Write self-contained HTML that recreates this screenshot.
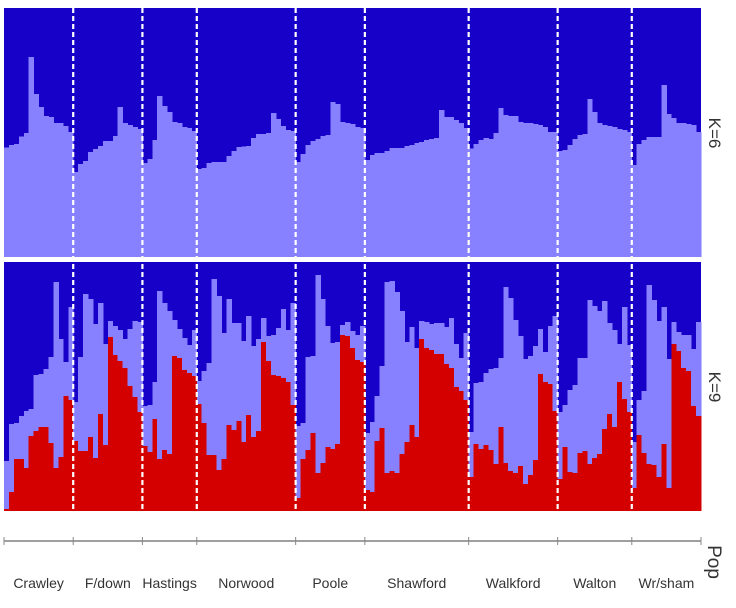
<!DOCTYPE html>
<html><head><meta charset="utf-8"><style>
html,body{margin:0;padding:0;background:#fff;}
svg{display:block;font-family:"Liberation Sans",sans-serif;}
</style></head><body>
<svg id="chart" width="736" height="608" viewBox="0 0 736 608" xmlns="http://www.w3.org/2000/svg">
<g id="k6"></g>
<g id="k9"></g>
<g id="divs"></g>
<g id="axis"></g>
<text transform="translate(709,133) rotate(90)" text-anchor="middle" font-size="17" fill="#333">K=6</text>
<text transform="translate(709,387) rotate(90)" text-anchor="middle" font-size="17" fill="#333">K=9</text>
<text transform="translate(708,562) rotate(90)" text-anchor="middle" font-size="19" fill="#333">Pop</text>
</svg>
<script>
const populations = ["Crawley","F/down","Hastings","Norwood","Poole","Shawford","Walkford","Walton","Wr/sham"];
const popSizes = [14,14,11,20,14,21,18,15,14];
// K=6: light cluster proportion (%) per individual
const k6Light = [
43.9,45.0,45.4,48.3,49.8,80.3,65.5,60.2,56.6,56.2,53.8,53.8,52.6,50.2,
34.1,37.3,38.6,42.2,43.4,44.6,46.6,46.6,48.6,60.2,53.8,53.0,52.2,51.4,
37.8,39.4,47.0,64.7,60.6,58.2,54.2,53.8,52.2,51.8,50.6,
35.3,35.7,37.8,38.2,38.2,38.2,40.6,42.6,44.2,44.3,44.6,47.8,49.4,49.4,49.8,57.8,55.4,52.6,51.0,50.6,
38.2,41.4,45.0,46.6,47.4,48.6,49.0,62.2,61.4,54.2,53.8,53.4,52.2,51.8,
39.0,41.0,41.8,41.8,42.6,43.8,43.8,43.8,44.6,45.0,45.8,46.2,47.0,47.4,47.8,59.0,56.2,56.2,55.0,53.8,51.8,
43.5,45.4,47.0,47.8,47.4,49.8,59.8,57.0,56.6,56.6,54.2,53.8,53.8,53.4,53.0,52.2,50.2,50.2,
42.6,43.0,45.0,47.4,49.0,49.4,63.5,58.2,53.8,53.0,52.6,52.2,51.4,51.0,50.2,
36.9,45.4,47.0,48.2,48.2,48.2,69.1,57.4,55.8,53.8,53.8,53.4,53.0,50.2];
// K=9: red cluster proportion (%)
const k9Red = [
0.8,7.6,20.9,20.9,17.3,30.1,32.1,33.7,33.7,27.3,17.3,21.7,46.2,44.6,
28.1,24.1,24.1,29.7,21.3,39.0,26.5,69.9,62.7,60.2,57.4,50.2,45.8,39.8,
26.1,23.7,36.9,20.9,24.5,22.9,62.2,61.4,56.6,55.4,54.2,
43.0,35.3,22.5,22.5,16.5,20.9,34.5,32.5,36.1,27.7,38.6,29.7,32.1,67.9,60.2,54.6,54.2,53.4,51.8,42.6,
5.2,20.9,24.5,31.3,15.3,19.3,25.7,24.9,26.9,70.7,70.3,65.5,60.6,59.8,
8.4,7.6,28.1,33.3,15.3,16.1,15.3,22.9,27.7,34.5,29.7,69.1,65.5,64.7,63.1,63.1,59.0,57.4,49.8,48.2,44.6,
13.7,26.9,24.9,26.5,24.5,18.9,33.7,19.3,16.1,15.3,18.1,10.8,14.5,20.5,55.0,51.8,51.0,40.2,
12.9,25.7,15.7,15.3,23.3,24.1,18.9,21.3,22.9,32.9,39.0,33.7,51.8,45.0,39.8,
9.2,30.5,23.3,18.9,18.5,13.7,26.9,9.2,67.1,64.3,57.4,56.2,42.2,38.2];
// K=9: red + light cumulative proportion (%)
const k9Cum = [
20.1,34.9,35.3,38.2,40.2,41.0,54.6,55.0,57.0,61.8,92.0,69.1,59.8,81.9,
43.8,61.8,87.1,85.1,75.1,83.5,67.1,76.3,74.3,72.7,69.1,73.1,76.3,75.9,
42.2,42.6,51.8,88.4,83.5,80.3,76.7,73.1,69.5,66.7,72.7,
52.2,56.2,59.4,93.2,86.3,71.5,85.1,75.5,75.5,68.3,78.3,66.3,69.1,77.5,70.3,70.7,73.5,81.1,72.7,83.5,
34.1,35.3,61.8,62.2,94.8,85.1,74.3,67.5,67.9,74.7,75.9,72.3,70.7,74.3,
31.3,35.7,46.2,58.2,92.0,92.4,88.0,80.3,67.9,73.9,65.5,76.3,75.9,75.1,75.5,75.5,73.9,77.5,67.1,61.4,71.5,
31.7,51.4,51.8,55.4,57.0,57.4,61.4,90.0,85.5,76.7,70.3,61.0,62.2,66.3,73.1,63.9,74.3,78.3,
39.8,42.6,48.6,50.6,61.4,61.4,84.7,82.3,80.3,84.3,75.5,72.7,67.1,81.9,66.7,
27.7,44.6,48.2,90.8,84.7,76.3,81.9,61.0,75.9,71.9,70.7,70.7,65.1,75.9];

const NS='http://www.w3.org/2000/svg';
const X0=4,X1=701;
const N=k6Light.length;
const bw=(X1-X0)/N;
const xs=i=>X0+i*bw;
const P6={top:8,bot:257}, P9={top:262,bot:511};
const ys=(p,v)=>p.bot-(p.bot-p.top)*v/100;
const DARK='#1700c8',LIGHT='#8780ff',RED='#d40000';
function rect(g,x,y,w,h,fill){
  const r=document.createElementNS(NS,'rect');
  r.setAttribute('x',x);r.setAttribute('y',y);r.setAttribute('width',w);r.setAttribute('height',Math.max(0,h));
  r.setAttribute('fill',fill);r.setAttribute('shape-rendering','crispEdges');
  g.appendChild(r);return r;
}
const g6=document.getElementById('k6'),g9=document.getElementById('k9');
let bg=rect(g6,X0,P6.top,X1-X0,P6.bot-P6.top,DARK);


bg=rect(g9,X0,P9.top,X1-X0,P9.bot-P9.top,DARK);


for(let i=0;i<N;i++){
  const x=xs(i),w=bw+0.4;
  let y=ys(P6,k6Light[i]);
  let r=rect(g6,x,y,w,P6.bot-y,LIGHT);
  
  
  y=ys(P9,k9Cum[i]);
  r=rect(g9,x,y,w,P9.bot-y,LIGHT);
  
  
  y=ys(P9,k9Red[i]);
  r=rect(g9,x,y,w,P9.bot-y,RED);
  
  
}
// separator between panels
let sep=rect(g9,X0,P6.bot,X1-X0+1,P9.top-P6.bot,'#fff');


// dividers, axis
const gd=document.getElementById('divs'),ga=document.getElementById('axis');
function line(g,x1,y1,x2,y2,stroke,sw,dash){
  const l=document.createElementNS(NS,'line');
  l.setAttribute('x1',x1);l.setAttribute('y1',y1);l.setAttribute('x2',x2);l.setAttribute('y2',y2);
  l.setAttribute('stroke',stroke);l.setAttribute('stroke-width',sw);
  if(dash)l.setAttribute('stroke-dasharray',dash);
  g.appendChild(l);return l;
}
let ax=line(ga,X0,541,X1,541,'#666',1.2);


let cum=0;
const bounds=[0];
popSizes.forEach(s=>{cum+=s;bounds.push(cum);});
bounds.forEach((b,k)=>{
  const x=xs(b);
  const t=line(ga,x,537,x,545,'#888',1);
  
  
  if(k>0&&k<bounds.length-1){
    const d=line(gd,x,8,x,511,'#fff',2.2,'5,3');
    
    
  }
});
populations.forEach((p,k)=>{
  const t=document.createElementNS(NS,'text');
  t.setAttribute('x',(xs(bounds[k])+xs(bounds[k+1]))/2);
  t.setAttribute('y',588);
  t.setAttribute('text-anchor','middle');
  t.setAttribute('font-size','14');
  t.setAttribute('fill','#333');
  t.textContent=p;
  
  
  ga.appendChild(t);
});
</script>
</body></html>
